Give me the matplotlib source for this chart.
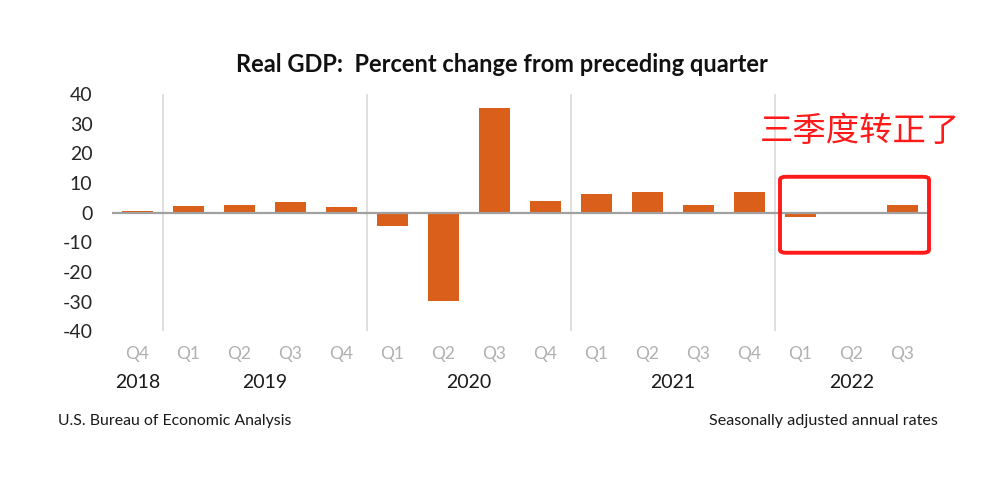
import matplotlib
matplotlib.use("Agg")
import matplotlib.pyplot as plt
from matplotlib.patches import FancyBboxPatch

quarters = ["Q4", "Q1", "Q2", "Q3", "Q4", "Q1", "Q2", "Q3", "Q4",
            "Q1", "Q2", "Q3", "Q4", "Q1", "Q2", "Q3"]
values = [0.7, 2.2, 2.7, 3.6, 1.8, -4.6, -29.9, 35.3, 3.9,
          6.3, 7.0, 2.7, 7.0, -1.6, -0.6, 2.6]
years = ["2018", "2019", "2020", "2021", "2022"]
year_centers = [0, 2.5, 6.5, 10.5, 14]
year_breaks = [0.5, 4.5, 8.5, 12.5]
yticks = [40, 30, 20, 10, 0, -10, -20, -30, -40]

plt.rcParams['font.family'] = ['Lato', 'DejaVu Sans']

fig = plt.figure(figsize=(10, 4.87), dpi=100)
ax = fig.add_axes([0.112, 0.320, 0.816, 0.487])

x = list(range(len(values)))
ax.bar(x, values, width=0.6, color='#d95f1b', zorder=2)
ax.axhline(0, color='#a0a0a0', lw=1.6, zorder=3)
for b in year_breaks:
    ax.axvline(b, color='#d9d9d9', lw=1.2, zorder=1)

ax.set_xlim(-0.5, 15.5)
ax.set_ylim(-40, 40)
ax.set_yticks(yticks)
ax.set_yticklabels([str(v) for v in yticks], fontsize=14, color='#262626')
ax.tick_params(axis='y', length=0, pad=14)
ax.set_xticks(x)
ax.set_xticklabels(quarters, fontsize=12.5, color='#b0b0b0')
ax.tick_params(axis='x', length=0, pad=11)
for s in ax.spines.values():
    s.set_visible(False)

for yr, c in zip(years, year_centers):
    ax.text(c, -57.2, yr, ha='center', va='center', fontsize=14,
            color='#1a1a1a', transform=ax.transData, clip_on=False)

fig.text(0.502, 0.868, "Real GDP:  Percent change from preceding quarter",
         ha='center', va='center', fontsize=17, fontweight='bold', color='#111111')
fig.text(0.058, 0.135, "U.S. Bureau of Economic Analysis", ha='left', va='center',
         fontsize=11.4, color='#1a1a1a')
fig.text(0.938, 0.135, "Seasonally adjusted annual rates", ha='right', va='center',
         fontsize=11.6, color='#1a1a1a')

fig.text(0.860, 0.729, "三季度转正了", ha='center', va='center', fontsize=24,
         color='#ff1a1a', family=['Noto Sans CJK SC', 'DejaVu Sans'])

rect = FancyBboxPatch((0.780, 0.481), 0.149, 0.156,
                      boxstyle="round,pad=0,rounding_size=0.006",
                      transform=fig.transFigure, fill=False,
                      edgecolor='#ff1a1a', lw=2.8, zorder=5)
fig.patches.append(rect)

fig.savefig("out.png", dpi=100)
